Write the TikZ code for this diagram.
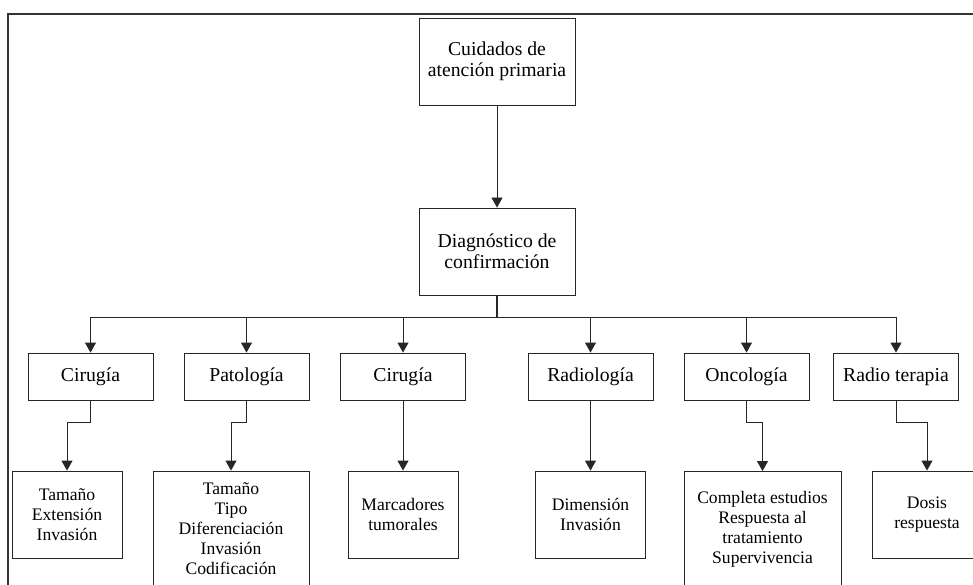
\documentclass[tikz,border=0pt]{standalone}
\usepackage{fontspec}
\setmainfont{Liberation Serif}
\usetikzlibrary{arrows.meta}
\begin{document}
\begin{tikzpicture}[x=1pt,y=-1pt,
  box/.style={draw=black!85, line width=0.9pt, inner sep=0pt, align=center, fill=white},
  bigbox/.style={box, minimum width=156pt, minimum height=87pt, font=\fontsize{19.7}{21}\selectfont},
  midbox/.style={box, minimum width=125pt, minimum height=47pt, font=\fontsize{19.7}{21}\selectfont},
  lowbox/.style={box, minimum width=110pt, minimum height=87pt, font=\fontsize{17.6}{20}\selectfont},
  tallbox/.style={lowbox, minimum width=156pt, minimum height=115pt},
  arr/.style={draw=black!85, line width=0.9pt, -{Triangle[length=10pt,width=11pt]}},
  frame/.style={draw=black!80, line width=2.2pt}
]
\useasboundingbox (0,0) rectangle (973,585);
\clip (0,0) rectangle (973,585);
\fill[white] (0,0) rectangle (973,585);
% outer frame (cut at right and bottom)
\draw[frame] (8,600) |- (990,14);
% nodes
\node[bigbox] (top) at (497,61.5) {Cuidados de\\atención primaria};
\node[bigbox] (diag) at (497,251.5) {Diagnóstico de\\confirmación};
\coordinate (bus) at (497,317);
\node[midbox] (c1) at (90.5,376.5) {Cirugía};
\node[midbox] (c2) at (246.5,376.5) {Patología};
\node[midbox] (c3) at (403,376.5) {Cirugía};
\node[midbox] (c4) at (590.5,376.5) {Radiología};
\node[midbox] (c5) at (746.5,376.5) {Oncología};
\node[midbox] (c6) at (896,376.5) {Radio terapia};
\node[lowbox] (d1) at (67,514.5) {Tamaño\\Extensión\\Invasión};
\node[tallbox] (d2) at (231,528.5) {Tamaño\\Tipo\\Diferenciación\\Invasión\\Codificación};
\node[lowbox] (d3) at (403,514.5) {Marcadores\\tumorales};
\node[lowbox] (d4) at (590.5,514.5) {Dimensión\\Invasión};
\node[tallbox, minimum width=157pt] (d5) at (762.5,529) {Completa estudios\\Respuesta al\\tratamiento\\Supervivencia};
\node[lowbox] (d6) at (927,514.5) {Dosis\\respuesta};
% connectors
\draw[arr] (top) -- (diag);
\draw[draw=black!85, line width=1.8pt] (diag.south) -- (bus);
\foreach \c in {c1,c2,c3,c4,c5,c6}{
  \draw[arr] (bus) -| (\c.north);
}
\draw[arr] (c1.south) -- ++(0,22) -| (d1.north);
\draw[arr] (c2.south) -- ++(0,22) -| (d2.north);
\draw[arr] (c3.south) -- (d3.north);
\draw[arr] (c4.south) -- (d4.north);
\draw[arr] (c5.south) -- ++(0,22) -| (d5.north);
\draw[arr] (c6.south) -- ++(0,22) -| (d6.north);
\end{tikzpicture}
\end{document}
